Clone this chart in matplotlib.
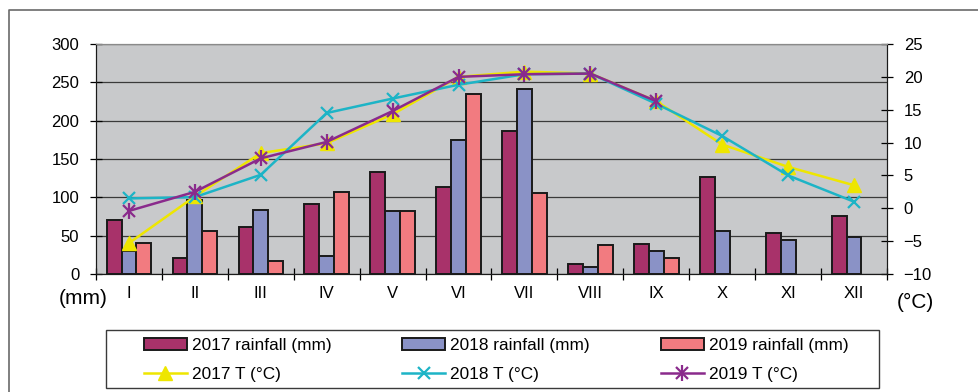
import numpy as np
import matplotlib.pyplot as plt
from matplotlib.patches import Rectangle
from matplotlib.lines import Line2D
from matplotlib.legend_handler import HandlerTuple

plt.rcParams['font.family'] = ['Liberation Sans', 'DejaVu Sans']

# Months and data
months = ['I', 'II', 'III', 'IV', 'V', 'VI', 'VII', 'VIII', 'IX', 'X', 'XI', 'XII']
rain_2017 = [70, 21, 61, 91, 133, 113, 187, 13, 39, 126, 54, 76]
rain_2018 = [30, 97, 83, 23, 82, 175, 241, 9, 30, 56, 45, 48]
rain_2019 = [40, 56, 17, 107, 82, 235, 106, 38, 21, np.nan, np.nan, np.nan]
temp_2017 = [-5.3, 1.8, 8.4, 9.9, 14.3, 20.0, 20.8, 20.5, 16.3, 9.7, 6.3, 3.5]
temp_2018 = [1.5, 1.7, 5.1, 14.5, 16.7, 18.8, 20.4, 20.5, 15.9, 11.0, 5.0, 1.0]
temp_2019 = [-0.4, 2.5, 7.6, 10.1, 14.8, 20.0, 20.4, 20.5, 16.3, np.nan, np.nan, np.nan]

c17, c18, c19 = '#A8326A', '#8A92C6', '#F27B80'
l17, l18, l19 = '#EEE600', '#1DB4C6', '#8A2A8C'

fig = plt.figure(figsize=(9.79, 3.92), dpi=100)
ax = fig.add_axes([96 / 979, 1 - 274 / 392, 791 / 979, 230 / 392])
ax2 = ax.twinx()

x = np.arange(len(months))
w = 0.225
b1 = ax.bar(x - w, rain_2017, w, color=c17, edgecolor='#1a1a1a', lw=1.4, zorder=3)
b2 = ax.bar(x, rain_2018, w, color=c18, edgecolor='#1a1a1a', lw=1.4, zorder=3)
b3 = ax.bar(x + w, rain_2019, w, color=c19, edgecolor='#1a1a1a', lw=1.4, zorder=3)

ax.set_facecolor('#C8C9CB')
ax.set_xlim(-0.5, 11.5)
ax.set_ylim(0, 300)
ax.set_yticks(range(0, 301, 50))
ax.grid(axis='y', color='#3a3a3a', lw=0.9, zorder=1)
ax.set_axisbelow(True)
ax.set_xticks(np.arange(-0.5, 12, 1))
ax.set_xticklabels([])
ax.set_xticks(x, months, minor=True)
ax.tick_params(axis='x', which='major', direction='inout', length=9, width=0.9)
ax.tick_params(axis='x', which='minor', length=0, pad=9, labelsize=12)
ax.tick_params(axis='y', direction='inout', length=8, width=0.9, pad=8, labelsize=12)

# Temperature lines
h17, = ax2.plot(x, temp_2017, color=l17, lw=1.8, marker='^', ms=10, zorder=4)
h18, = ax2.plot(x, temp_2018, color=l18, lw=1.8, marker='x', ms=9, mew=1.6, zorder=5)
h19, = ax2.plot(x, temp_2019, color=l19, lw=1.8, marker='x', ms=9, mew=1.6, zorder=6)
h19b, = ax2.plot(x, temp_2019, color=l19, lw=0, marker='|', ms=11, mew=1.6, zorder=6)
ax2.set_ylim(-10, 25)
ax2.set_yticks(range(-10, 26, 5))
ax2.tick_params(axis='y', direction='inout', length=8, width=0.9, pad=8, labelsize=12)

for a in (ax, ax2):
    a.spines['top'].set_color('#8a8a8a')
    a.spines['left'].set_color('#1a1a1a')
    a.spines['right'].set_color('#1a1a1a')
    a.spines['bottom'].set_color('#1a1a1a')

fig.text(83 / 979, 1 - 298 / 392, '(mm)', ha='center', va='center', fontsize=15)
fig.text(915 / 979, 1 - 302 / 392, '(°C)', ha='center', va='center', fontsize=15)

# Outer frame
fig.add_artist(Line2D([9 / 979, 9 / 979, 1], [0, 1 - 10 / 392, 1 - 10 / 392],
                      transform=fig.transFigure, color='#6a6a6a', lw=1.2))

# Legend box
fig.add_artist(Rectangle((106 / 979, 1 - 388 / 392), 773 / 979, 58 / 392,
                         transform=fig.transFigure, fill=False,
                         edgecolor='#3a3a3a', lw=1))
handles = [b1, h17, b2, h18, b3, (h19, h19b)]
labels = ['2017 rainfall (mm)', '2017 T (°C)', '2018 rainfall (mm)',
          '2018 T (°C)', '2019 rainfall (mm)', '2019 T (°C)']
fig.legend(handles, labels, ncol=3, loc='center',
           bbox_to_anchor=(496 / 979, 1 - 360 / 392), frameon=False,
           fontsize=12.4, handlelength=2.5, handletextpad=0.3,
           columnspacing=4.1, labelspacing=0.8, borderpad=0,
           handler_map={tuple: HandlerTuple(ndivide=1)})

fig.savefig('out.png', dpi=100)
